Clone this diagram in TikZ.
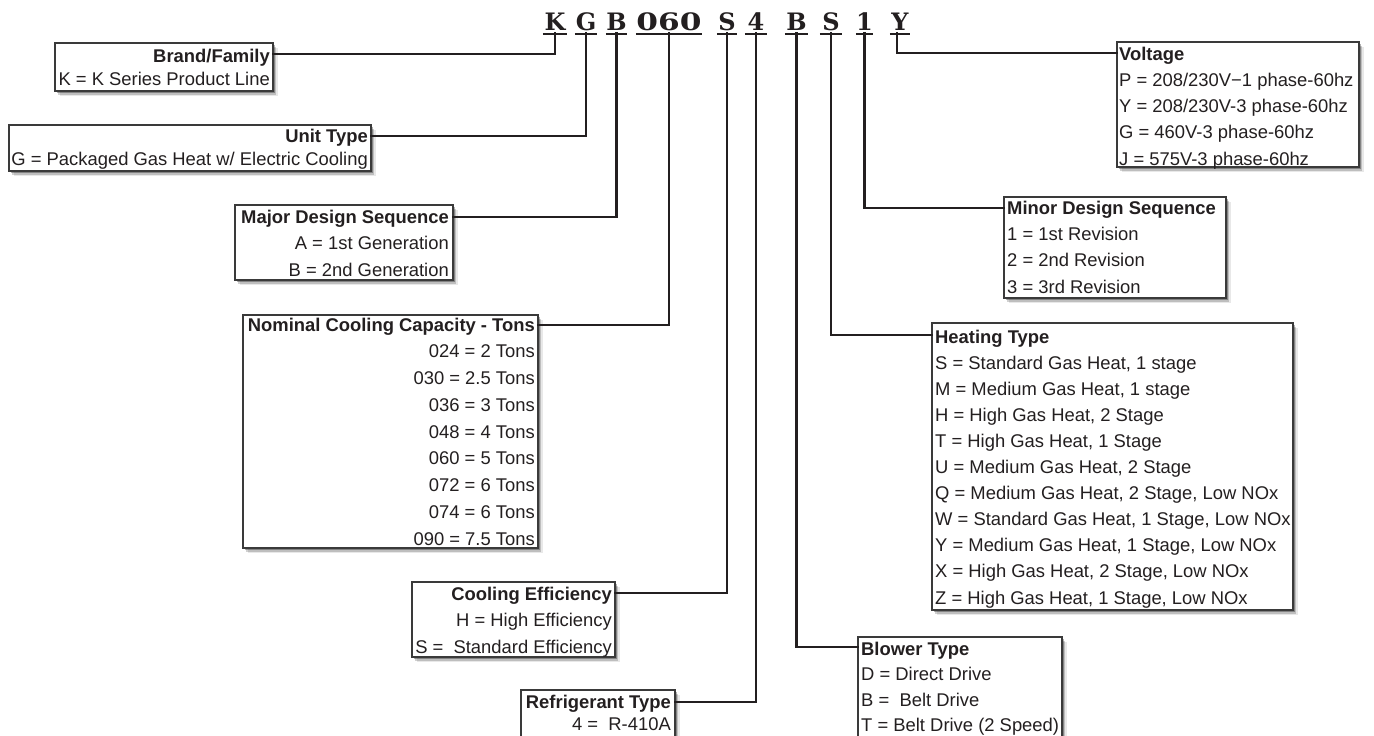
\documentclass[tikz,border=0pt]{standalone}
\usepackage{fontspec}
\setmainfont{Liberation Sans}
\newfontfamily\codefont{DejaVu Serif}
\usetikzlibrary{shadows,calc}
\definecolor{ink}{HTML}{231F20}
\definecolor{edge}{HTML}{3A3A3A}
\tikzset{
  box/.style={draw=edge, line width=1.2pt, fill=white, inner sep=0pt, outer sep=0pt, anchor=north west,
    drop shadow={shadow xshift=1.5pt, shadow yshift=-2pt, opacity=.30, fill=black},
    drop shadow={shadow xshift=3pt, shadow yshift=-3.5pt, opacity=.18, fill=black},
    drop shadow={shadow xshift=4.5pt, shadow yshift=-5pt, opacity=.09, fill=black}},
  txt/.style={font=\fontsize{18.4}{22}\selectfont, text=ink, inner sep=0pt},
  ttl/.style={txt, font=\fontsize{18.4}{22}\selectfont\bfseries},
  code/.style={font=\codefont\bfseries\fontsize{24}{26}\selectfont, text=ink, inner sep=0pt, anchor=base},
  uline/.style={draw=ink, line width=2pt},
  conn/.style={draw=ink, line width=2.4pt, line cap=rect, line join=miter},
}
\begin{document}
\begin{tikzpicture}[x=1pt,y=-1pt]
\useasboundingbox[fill=white] (0,0) rectangle (1374,736);

% code letters
\node[code, minimum width=24] (cK) at (555,30) {K};
\node[code, minimum width=22] (cG) at (586,30) {G};
\node[code, minimum width=21] (cB) at (616.5,30) {B};
\node[code, minimum width=66] (cN) at (669,30) {\scalebox{1.3}[1]{060}};
\node[code, minimum width=20] (cS) at (727,30) {S};
\node[code, minimum width=22] (c4) at (756,30) {4};
\node[code, minimum width=23] (cB2) at (796.5,30) {B};
\node[code, minimum width=22] (cS2) at (831,30) {S};
\node[code, minimum width=15] (c1) at (864.5,30) {1};
\node[code, minimum width=20] (cY) at (900,30) {Y};
\foreach \n in {cK,cG,cB,cN,cS,c4,cB2,cS2,c1,cY}
  \draw[uline] ([yshift=-3.5pt]\n.base west) -- ([yshift=-3.5pt]\n.base east);

% boxes
\node[box, minimum width=218, minimum height=48] (brand) at (55,43) {};
\node[box, minimum width=362, minimum height=46] (unit) at (9,125) {};
\node[box, minimum width=218, minimum height=75] (major) at (235,205) {};
\node[box, minimum width=295, minimum height=233] (nom) at (243,315) {};
\node[box, minimum width=203, minimum height=75] (eff) at (412,582) {};
\node[box, minimum width=154, minimum height=70] (ref) at (521,690) {};
\node[box, minimum width=242, minimum height=125] (volt) at (1117,42) {};
\node[box, minimum width=222, minimum height=101] (minor) at (1004,197) {};
\node[box, minimum width=361, minimum height=287] (heat) at (932,323) {};
\node[box, minimum width=204, minimum height=120] (blow) at (858,637) {};

% left side texts
\node[ttl, anchor=base east] (brandT) at (270,62) {Brand/Family};
\node[txt, anchor=base east] (brand1) at (270,85) {K = K Series Product Line};
\node[ttl, anchor=base east] (unitT) at (368,142) {Unit Type};
\node[txt, anchor=base east] (unit1) at (368,165) {G = Packaged Gas Heat w/ Electric Cooling};
\node[ttl, anchor=base east] (majorT) at (449,223) {Major Design Sequence};
\foreach \t [count=\i] in {{A = 1st Generation},{B = 2nd Generation}}
  \node[txt, anchor=base east] (major\i) at (449,{223+\i*26.5}) {\t};
\node[ttl, anchor=base east] (nomT) at (535,331) {Nominal Cooling Capacity - Tons};
\foreach \t [count=\i] in {{024 = 2 Tons},{030 = 2.5 Tons},{036 = 3 Tons},{048 = 4 Tons},{060 = 5 Tons},{072 = 6 Tons},{074 = 6 Tons},{090 = 7.5 Tons}}
  \node[txt, anchor=base east] (nom\i) at (535,{331+\i*26.75}) {\t};
\node[ttl, anchor=base east] (effT) at (612,600) {Cooling Efficiency};
\node[txt, anchor=base east] (eff1) at (612,626) {H = High Efficiency};
\node[txt, anchor=base east] (eff2) at (612,653) {S = ~Standard Efficiency};
\node[ttl, anchor=base east] (refT) at (671,708) {Refrigerant Type};
\node[txt, anchor=base east] (ref1) at (671,730) {4 = ~R-410A};

% right side texts
\node[ttl, anchor=base west] (voltT) at (1119,60) {Voltage};
\foreach \t [count=\i] in {{P = 208/230V−1 phase-60hz},{Y = 208/230V-3 phase-60hz},{G = 460V-3 phase-60hz},{J = 575V-3 phase-60hz}}
  \node[txt, anchor=base west] (volt\i) at (1119,{60+\i*26.3}) {\t};
\node[ttl, anchor=base west] (minorT) at (1007,214) {Minor Design Sequence};
\foreach \t [count=\i] in {{1 = 1st Revision},{2 = 2nd Revision},{3 = 3rd Revision}}
  \node[txt, anchor=base west] (minor\i) at (1007,{214+\i*26.4}) {\t};
\node[ttl, anchor=base west] (heatT) at (935,343) {Heating Type};
\foreach \t [count=\i] in {{S = Standard Gas Heat, 1 stage},{M = Medium Gas Heat, 1 stage},{H = High Gas Heat, 2 Stage},{T = High Gas Heat, 1 Stage},{U = Medium Gas Heat, 2 Stage},{Q = Medium Gas Heat, 2 Stage, Low NOx},{W = Standard Gas Heat, 1 Stage, Low NOx},{Y = Medium Gas Heat, 1 Stage, Low NOx},{X = High Gas Heat, 2 Stage, Low NOx},{Z = High Gas Heat, 1 Stage, Low NOx}}
  \node[txt, anchor=base west] (heat\i) at (935,{343+\i*26.1}) {\t};
\node[ttl, anchor=base west] (blowT) at (861,655) {Blower Type};
\foreach \t [count=\i] in {{D = Direct Drive},{B = ~Belt Drive},{T = Belt Drive (2 Speed)}}
  \node[txt, anchor=base west] (blow\i) at (861,{655+\i*25.6}) {\t};

% connectors
\draw[conn] ([yshift=-3.5pt]cK.base) |- ([yshift=-11pt]brand.north east);
\draw[conn] ([yshift=-3.5pt]cG.base) |- ([yshift=-11pt]unit.north east);
\draw[conn] ([yshift=-3.5pt]cB.base) |- ([yshift=-12pt]major.north east);
\draw[conn] ([yshift=-3.5pt]cN.base) |- ([yshift=-10pt]nom.north east);
\draw[conn] ([yshift=-3.5pt]cS.base) |- ([yshift=-11pt]eff.north east);
\draw[conn] ([yshift=-3.5pt]c4.base) |- ([yshift=-12pt]ref.north east);
\draw[conn] ([yshift=-3.5pt]cB2.base) |- ([yshift=-10pt]blow.north west);
\draw[conn] ([yshift=-3.5pt]cS2.base) |- ([yshift=-12pt]heat.north west);
\draw[conn] ([yshift=-3.5pt]c1.base) |- ([yshift=-11pt]minor.north west);
\draw[conn] ([yshift=-3.5pt,xshift=-3pt]cY.base) |- ([yshift=-11pt]volt.north west);
\end{tikzpicture}
\end{document}
